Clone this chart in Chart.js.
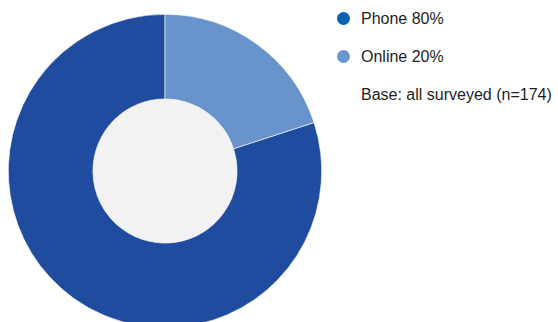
<!DOCTYPE html>
<html>
<head>
<meta charset="utf-8">
<script src="https://cdn.jsdelivr.net/npm/chart.js@4"></script>
<style>
    html, body { margin: 0; padding: 0; background: #ffffff; }
    body { width: 558px; height: 322px; overflow: hidden; position: relative; font-family: "Liberation Sans", Arial, sans-serif; }
    #chartBox { position: absolute; left: 8px; top: 14px; width: 314px; height: 314px; }
    #leyenda { position: absolute; left: 337px; top: 8px; color: #1e1e1e; font-size: 16px; }
    .item { position: relative; height: 38px; line-height: 22px; padding-left: 24px; white-space: nowrap; }
    .punto { position: absolute; left: 0; top: 4px; width: 13px; height: 13px; border-radius: 50%; }
</style>
</head>
<body>
<div id="chartBox"><canvas id="myChart" width="314" height="314"></canvas></div>
<div id="leyenda"></div>
<script>
// Canal de respuesta
const categorias = ['Phone', 'Online'];
const porcentajes = [80, 20];
const coloresSector = ['#1f4c9e', '#6893cb'];
const coloresLeyenda = ['#0a62b1', '#6a96cf'];
const notaBase = 'Base: all surveyed (n=174)';

// Rellena el hueco central del anillo en gris claro
const rellenoCentro = {
    id: 'rellenoCentro',
    beforeDatasetsDraw(chart) {
        const arco = chart.getDatasetMeta(0).data[0];
        if (!arco) return;
        const ctx = chart.ctx;
        ctx.save();
        ctx.beginPath();
        ctx.arc(arco.x, arco.y, arco.innerRadius, 0, Math.PI * 2);
        ctx.fillStyle = '#f2f2f2';
        ctx.fill();
        ctx.restore();
    }
};

const ctx = document.getElementById('myChart').getContext('2d');
const myChart = new Chart(ctx, {
    type: 'doughnut',
    data: {
        labels: categorias,
        datasets: [{
            data: porcentajes,
            backgroundColor: coloresSector,
            borderColor: '#ffffff',
            borderWidth: 0.6
        }]
    },
    options: {
        responsive: false,
        animation: false,
        cutout: '46%',
        rotation: 72, // Online queda arriba a la derecha
        layout: { padding: 0 },
        plugins: {
            legend: { display: false },
            tooltip: { enabled: false }
        }
    },
    plugins: [rellenoCentro]
});

// Leyenda en HTML a partir de los mismos datos
const leyenda = document.getElementById('leyenda');
categorias.forEach((cat, i) => {
    const fila = document.createElement('div');
    fila.className = 'item';
    fila.innerHTML = `<span class="punto" style="background:${coloresLeyenda[i]}"></span>${cat} ${porcentajes[i]}%`;
    leyenda.appendChild(fila);
});
const base = document.createElement('div');
base.className = 'item';
base.textContent = notaBase;
leyenda.appendChild(base);
</script>
</body>
</html>
